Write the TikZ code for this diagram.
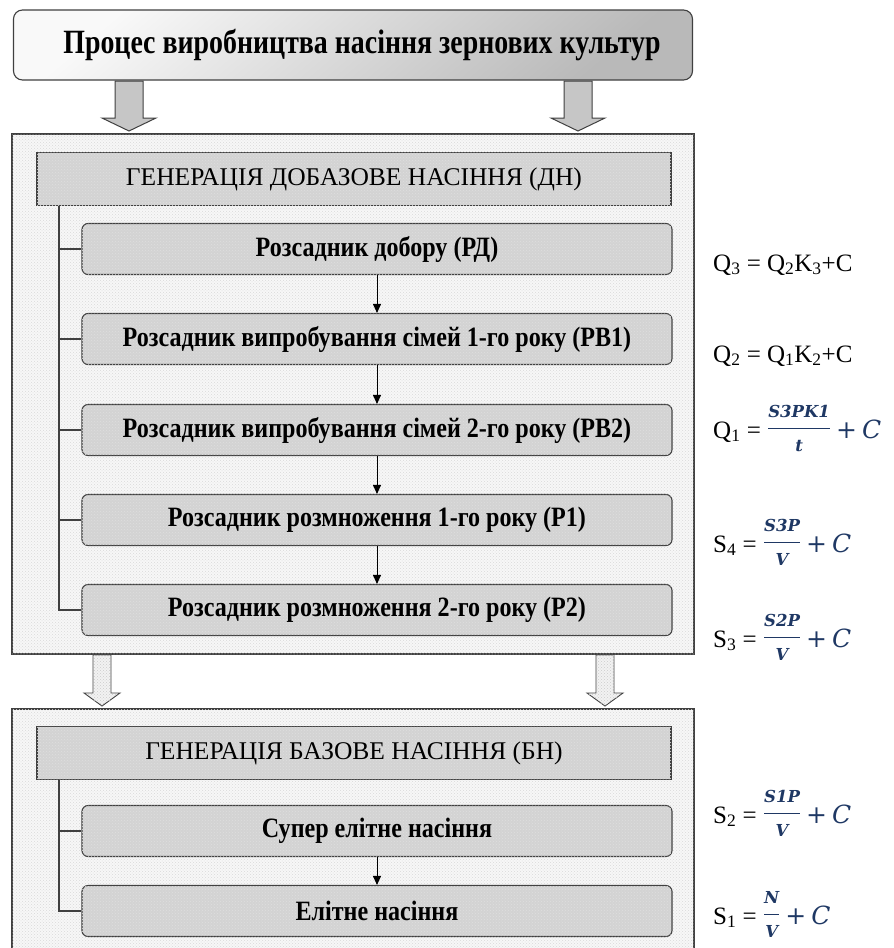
\documentclass[tikz,border=0pt]{standalone}
\usepackage{fontspec}
\setmainfont{Liberation Serif}
\newfontfamily\condfont[FakeStretch=0.86]{Liberation Serif}
\newfontfamily\titlefont[FakeStretch=0.82]{Liberation Serif}
\newfontfamily\eqfont{DejaVu Serif}
\usetikzlibrary{patterns,arrows.meta}
\definecolor{eqblue}{HTML}{1F3864}
\definecolor{boxgray}{HTML}{D3D3D3}
\definecolor{edge}{HTML}{404040}
\tikzset{
  outerbox/.style={draw=edge, line width=1.2pt, fill=gray!6,
    postaction={pattern=crosshatch dots, pattern color=gray!30}},
  headbox/.style={draw=edge, line width=1.1pt, fill=boxgray,
    postaction={pattern=crosshatch dots, pattern color=gray!25},
    minimum width=634pt, minimum height=53pt, inner sep=0pt,
    font=\fontsize{25.5}{27}\selectfont},
  childbox/.style={draw=edge, line width=1.1pt, fill=boxgray, rounded corners=6pt,
    postaction={pattern=crosshatch dots, pattern color=gray!25},
    minimum width=590pt, minimum height=51pt, inner sep=0pt,
    font=\condfont\bfseries\fontsize{28}{30}\selectfont},
  titlebox/.style={draw=edge, line width=1.1pt, rounded corners=9pt,
    top color=gray!5, bottom color=gray!55, shading angle=40,
    minimum width=679pt, minimum height=70pt, inner sep=0pt,
    font=\titlefont\bfseries\fontsize{34}{36}\selectfont},
  flow/.style={draw=black, line width=0.9pt, -{Triangle[length=9pt,width=8pt]}},
  tree/.style={draw=edge, line width=1.1pt},
  bigarrow/.style={draw=edge, line width=1pt, fill=gray!45},
  midarrow/.style={draw=edge, line width=0.9pt, fill=gray!10,
    postaction={pattern=crosshatch dots, pattern color=gray!40}},
  formula/.style={anchor=base west, inner sep=0pt, font=\fontsize{25}{27}\selectfont}
}
\newcommand\eqpart[1]{\hbox{\eqfont\itshape\bfseries\fontsize{16.5}{18}\selectfont #1}}
\newcommand\eqfrac[2]{\textcolor{eqblue}{\raisebox{4pt}{$\displaystyle\frac{\eqpart{#1}}{\eqpart{#2}}$}\hspace{5pt}{\eqfont\fontsize{25}{27}\selectfont+\hspace{5pt}\textit{C}}}}
\begin{document}
\begin{tikzpicture}[x=1pt,y=-1pt]
\useasboundingbox (0,0) rectangle (894,948);
% title
\node[titlebox] (title) at (353,45) {\hspace*{18pt}Процес виробництва насіння зернових культур};
% outer boxes
\path[outerbox] (12,134) rectangle (694,654);
\path[outerbox] (12,709) rectangle (694,955);
\coordinate (ta1) at (129,81);
\coordinate (ta2) at (578,81);
\coordinate (ma1) at (102,655);
\coordinate (ma2) at (605,655);
% top block arrows
\foreach \c in {ta1,ta2}{
  \draw[bigarrow,shift={(\c)}] (-14,0) -- (-14,37) -- (-27,37) -- (0,50) -- (27,37) -- (14,37) -- (14,0) -- cycle;
}
% middle block arrows
\foreach \c in {ma1,ma2}{
  \draw[midarrow,shift={(\c)}] (-9,0) -- (-9,38) -- (-18,38) -- (0,51) -- (18,38) -- (9,38) -- (9,0) -- cycle;
}
% block 1
\node[headbox] (h1) at (354,179) {ГЕНЕРАЦІЯ ДОБАЗОВЕ НАСІННЯ (ДН)};
\node[childbox] (rd) at (377,249) {Розсадник добору (РД)};
\node[childbox] (rv1) at (377,339) {Розсадник випробування сімей 1-го року (РВ1)};
\node[childbox] (rv2) at (377,430) {Розсадник випробування сімей 2-го року (РВ2)};
\node[childbox] (r1) at (377,520) {Розсадник розмноження 1-го року (Р1)};
\node[childbox] (r2) at (377,610) {Розсадник розмноження 2-го року (Р2)};
\coordinate (v1) at (59,0);
\draw[tree] (h1.south -| v1) -- (r2.west -| v1) -- (r2.west);
\foreach \n in {rd,rv1,rv2,r1}{ \draw[tree] (\n.west -| v1) -- (\n.west); }
\draw[flow] (rd) -- (rv1);
\draw[flow] (rv1) -- (rv2);
\draw[flow] (rv2) -- (r1);
\draw[flow] (r1) -- (r2);
% block 2
\node[headbox] (h2) at (354,753) {ГЕНЕРАЦІЯ БАЗОВЕ НАСІННЯ (БН)};
\node[childbox] (se) at (377,831) {Супер елітне насіння};
\node[childbox] (el) at (377,911) {Елітне насіння};
\draw[tree] (h2.south -| v1) -- (el.west -| v1) -- (el.west);
\draw[tree] (se.west -| v1) -- (se.west);
\draw[flow] (se) -- (el);
% formulas
\node[formula] (fq3) at (713,271) {Q\textsubscript{3} = Q\textsubscript{2}K\textsubscript{3}+C};
\node[formula] (fq2) at (713,362) {Q\textsubscript{2} = Q\textsubscript{1}K\textsubscript{2}+C};
\node[formula] (fq1) at (713,438) {Q\textsubscript{1} = \eqfrac{S3PK1}{t}};
\node[formula] (fs4) at (713,552) {S\textsubscript{4} = \eqfrac{S3P}{V}};
\node[formula] (fs3) at (713,647) {S\textsubscript{3} = \eqfrac{S2P}{V}};
\node[formula] (fs2) at (713,823) {S\textsubscript{2} = \eqfrac{S1P}{V}};
\node[formula] (fs1) at (713,924) {S\textsubscript{1} = \eqfrac{N}{V}};
\end{tikzpicture}
\end{document}
